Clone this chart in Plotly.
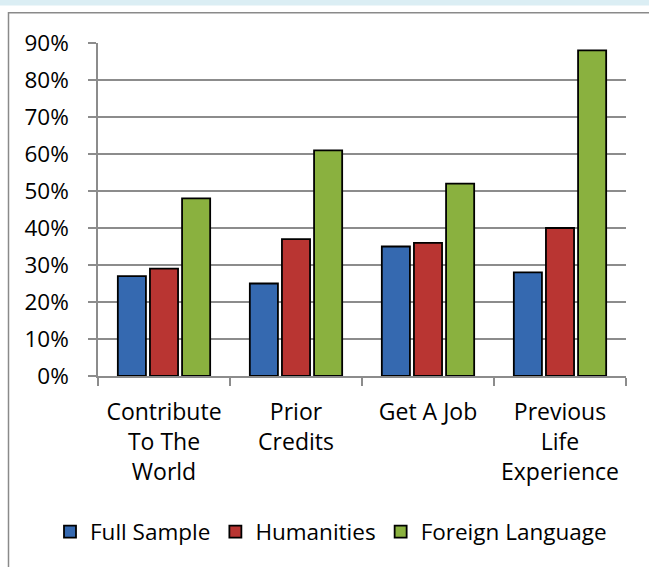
import plotly.graph_objects as go

categories = ["Contribute<br>To The<br>World", "Prior<br>Credits", "Get A Job", "Previous<br>Life<br>Experience"]
series_names = ["Full Sample", "Humanities", "Foreign Language"]
full_sample = [27, 25, 35, 28]
humanities = [29, 37, 36, 40]
foreign_language = [48, 61, 52, 88]
y_ticks = [0, 10, 20, 30, 40, 50, 60, 70, 80, 90]
y_tick_labels = [f"{v}%" for v in y_ticks]

colors = ["#3569b0", "#b93532", "#8ab13f"]

W, H = 649, 567
ML, MR, MT, MB = 98, 23, 43, 191
PW = W - ML - MR
PH = H - MT - MB


def px_x(x):
    return (x - ML) / PW


def px_y(y):
    return 1 - (y - MT) / PH


FONT = "Open Sans"
fig = go.Figure()
for name, vals, col in zip(series_names, [full_sample, humanities, foreign_language], colors):
    fig.add_trace(go.Bar(
        x=categories, y=vals, name=name,
        marker=dict(color=col, line=dict(color="#000000", width=1.8)),
    ))

fig.update_layout(
    width=W, height=H, autosize=False,
    margin=dict(l=ML, r=MR, t=MT, b=MB, pad=0),
    paper_bgcolor="white", plot_bgcolor="white",
    font=dict(family=FONT, size=23, color="#000000"),
    barmode="group", bargap=0.27, bargroupgap=0.125,
    showlegend=True,
    legend=dict(orientation="h", x=px_x(50), y=px_y(532), xanchor="left", yanchor="middle",
                font=dict(family=FONT, size=22.5, color="#000000"), bgcolor="rgba(0,0,0,0)",
                traceorder="normal", itemclick=False, borderwidth=0),
    shapes=[
        dict(type="rect", xref="paper", yref="paper", x0=px_x(-5), x1=px_x(W + 5), y0=px_y(-5), y1=px_y(5.5),
             fillcolor="#dbeef4", line=dict(width=0), layer="below"),
        dict(type="rect", xref="paper", yref="paper", x0=px_x(8.5), x1=px_x(W + 30), y0=px_y(12.7), y1=px_y(H + 30),
             fillcolor="rgba(0,0,0,0)", line=dict(color="#8a8a8a", width=1.5), layer="below"),
    ],
)
fig.update_yaxes(
    range=[0, 90], tickmode="array", tickvals=y_ticks, ticktext=y_tick_labels,
    showgrid=True, gridcolor="#8c8c8c", gridwidth=1.5,
    showline=True, linecolor="#8c8c8c", linewidth=1.5,
    ticks="outside", ticklen=8, tickcolor="#8c8c8c", tickwidth=1.5,
    ticklabelstandoff=15, zeroline=False,
    tickfont=dict(family=FONT, size=22.5, color="#000000"),
)
fig.update_xaxes(
    showline=True, linecolor="#8c8c8c", linewidth=1.5,
    ticks="outside", ticklen=8, tickcolor="#8c8c8c", tickwidth=1.5, tickson="boundaries",
    showgrid=False, ticklabelstandoff=15,
    tickfont=dict(family=FONT, size=23, color="#000000"),
)

fig.write_html("out.html", config={"displayModeBar": False},
               post_script="document.body.style.margin='0';document.body.style.overflow='hidden';")
